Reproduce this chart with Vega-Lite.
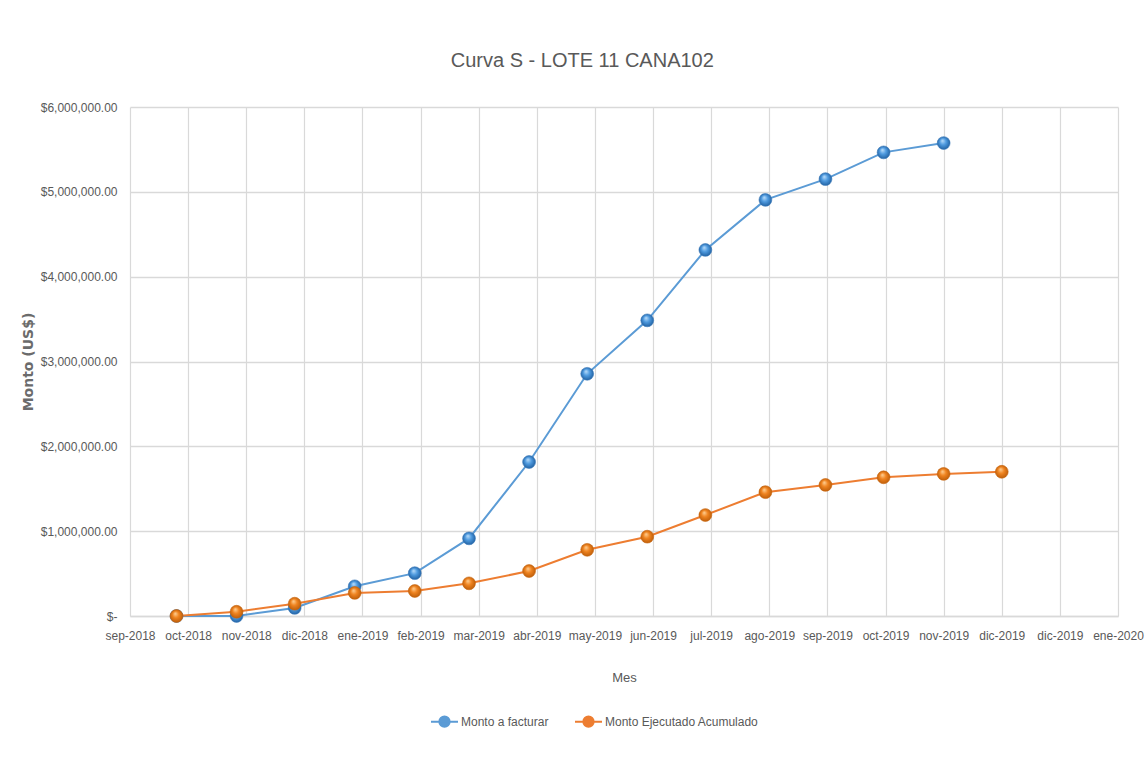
{
  "$schema": "https://vega.github.io/schema/vega-lite/v6.json",
  "width": 988,
  "height": 509,
  "autosize": {"type": "none"},
  "padding": {"left": 130, "top": 107, "right": 30, "bottom": 162},
  "background": "white",
  "title": {
    "text": "Curva S - LOTE 11 CANA102",
    "font": "Liberation Sans",
    "fontSize": 20,
    "fontWeight": "normal",
    "color": "#595959",
    "anchor": "middle",
    "frame": "bounds",
    "offset": 30
  },
  "config": {
    "view": {"stroke": null},
    "font": "Liberation Sans"
  },
  "data": {
    "values": [
      {"mes": "2018-10-01", "serie": "Monto a facturar", "monto": 0},
      {"mes": "2018-11-01", "serie": "Monto a facturar", "monto": 0},
      {"mes": "2018-12-01", "serie": "Monto a facturar", "monto": 95000},
      {"mes": "2019-01-01", "serie": "Monto a facturar", "monto": 350000},
      {"mes": "2019-02-01", "serie": "Monto a facturar", "monto": 505000},
      {"mes": "2019-03-01", "serie": "Monto a facturar", "monto": 915000},
      {"mes": "2019-04-01", "serie": "Monto a facturar", "monto": 1815000},
      {"mes": "2019-05-01", "serie": "Monto a facturar", "monto": 2855000},
      {"mes": "2019-06-01", "serie": "Monto a facturar", "monto": 3485000},
      {"mes": "2019-07-01", "serie": "Monto a facturar", "monto": 4315000},
      {"mes": "2019-08-01", "serie": "Monto a facturar", "monto": 4905000},
      {"mes": "2019-09-01", "serie": "Monto a facturar", "monto": 5150000},
      {"mes": "2019-10-01", "serie": "Monto a facturar", "monto": 5465000},
      {"mes": "2019-11-01", "serie": "Monto a facturar", "monto": 5575000},
      {"mes": "2018-10-01", "serie": "Monto Ejecutado Acumulado", "monto": 0},
      {"mes": "2018-11-01", "serie": "Monto Ejecutado Acumulado", "monto": 50000},
      {"mes": "2018-12-01", "serie": "Monto Ejecutado Acumulado", "monto": 145000},
      {"mes": "2019-01-01", "serie": "Monto Ejecutado Acumulado", "monto": 272000},
      {"mes": "2019-02-01", "serie": "Monto Ejecutado Acumulado", "monto": 295000},
      {"mes": "2019-03-01", "serie": "Monto Ejecutado Acumulado", "monto": 385000},
      {"mes": "2019-04-01", "serie": "Monto Ejecutado Acumulado", "monto": 530000},
      {"mes": "2019-05-01", "serie": "Monto Ejecutado Acumulado", "monto": 780000},
      {"mes": "2019-06-01", "serie": "Monto Ejecutado Acumulado", "monto": 935000},
      {"mes": "2019-07-01", "serie": "Monto Ejecutado Acumulado", "monto": 1190000},
      {"mes": "2019-08-01", "serie": "Monto Ejecutado Acumulado", "monto": 1460000},
      {"mes": "2019-09-01", "serie": "Monto Ejecutado Acumulado", "monto": 1545000},
      {"mes": "2019-10-01", "serie": "Monto Ejecutado Acumulado", "monto": 1635000},
      {"mes": "2019-11-01", "serie": "Monto Ejecutado Acumulado", "monto": 1675000},
      {"mes": "2019-12-01", "serie": "Monto Ejecutado Acumulado", "monto": 1700000}
    ]
  },
  "encoding": {
    "x": {
      "field": "mes",
      "type": "temporal",
      "title": "Mes",
      "scale": {
        "type": "utc",
        "domain": [
          {"year": 2018, "month": 9, "date": 7, "utc": true},
          {"year": 2020, "month": 1, "date": 30, "utc": true}
        ]
      },
      "axis": {
        "values": [
          {"year": 2018, "month": 9, "date": 7, "utc": true},
          {"year": 2018, "month": 10, "date": 7, "utc": true},
          {"year": 2018, "month": 11, "date": 6, "utc": true},
          {"year": 2018, "month": 12, "date": 6, "utc": true},
          {"year": 2019, "month": 1, "date": 5, "utc": true},
          {"year": 2019, "month": 2, "date": 4, "utc": true},
          {"year": 2019, "month": 3, "date": 6, "utc": true},
          {"year": 2019, "month": 4, "date": 5, "utc": true},
          {"year": 2019, "month": 5, "date": 5, "utc": true},
          {"year": 2019, "month": 6, "date": 4, "utc": true},
          {"year": 2019, "month": 7, "date": 4, "utc": true},
          {"year": 2019, "month": 8, "date": 3, "utc": true},
          {"year": 2019, "month": 9, "date": 2, "utc": true},
          {"year": 2019, "month": 10, "date": 2, "utc": true},
          {"year": 2019, "month": 11, "date": 1, "utc": true},
          {"year": 2019, "month": 12, "date": 1, "utc": true},
          {"year": 2019, "month": 12, "date": 31, "utc": true},
          {"year": 2020, "month": 1, "date": 30, "utc": true}
        ],
        "labelExpr": "['ene','feb','mar','abr','may','jun','jul','ago','sep','oct','nov','dic'][utcmonth(datum.value)] + '-' + utcyear(datum.value)",
        "labelAngle": 0,
        "labelFontSize": 12,
        "labelColor": "#595959",
        "labelPadding": 14,
        "labelOverlap": false,
        "labelFlush": false,
        "ticks": false,
        "domainColor": "#d9d9d9",
        "domainWidth": 1.5,
        "grid": true,
        "gridColor": "#d9d9d9",
        "gridWidth": 1.2,
        "title": "Mes",
        "titleFontSize": 13,
        "titleFontWeight": "normal",
        "titleColor": "#595959",
        "titlePadding": 30
      }
    },
    "y": {
      "field": "monto",
      "type": "quantitative",
      "scale": {"domain": [0, 6000000]},
      "axis": {
        "values": [0, 1000000, 2000000, 3000000, 4000000, 5000000, 6000000],
        "labelExpr": "datum.value == 0 ? '$-' : format(datum.value, '$,.2f')",
        "labelFontSize": 12,
        "labelColor": "#595959",
        "labelPadding": 13,
        "ticks": false,
        "domain": false,
        "grid": true,
        "gridColor": "#d9d9d9",
        "gridWidth": 1.5,
        "title": "Monto (US$)",
        "titleFont": "DejaVu Sans",
        "titleFontSize": 14,
        "titleFontWeight": "bold",
        "titleColor": "#6b6b6b",
        "titlePadding": 5
      }
    }
  },
  "layer": [
    {
      "mark": {"type": "line", "strokeWidth": 2},
      "encoding": {
        "color": {
          "field": "serie",
          "type": "nominal",
          "scale": {
            "domain": ["Monto a facturar", "Monto Ejecutado Acumulado"],
            "range": ["#5b9bd5", "#ed7d31"]
          },
          "legend": {
            "title": null,
            "orient": "none",
            "direction": "horizontal",
            "legendX": 300,
            "legendY": 600,
            "labelFontSize": 12,
            "labelColor": "#595959",
            "labelLimit": 0,
            "labelOffset": 2,
            "columnPadding": 22,
            "symbolType": "M-1,0L1,0M0.38,0A0.38,0.38,0,1,1,-0.38,0A0.38,0.38,0,1,1,0.38,0Z",
            "symbolSize": 729,
            "symbolStrokeWidth": 2,
            "encode": {
              "symbols": {
                "update": {
                  "fill": {"scale": "color", "field": "value"},
                  "stroke": {"scale": "color", "field": "value"},
                  "fillOpacity": {"value": 1}
                }
              }
            }
          }
        }
      }
    },
    {
      "transform": [{"filter": "datum.serie == 'Monto a facturar'"}],
      "mark": {
        "type": "point",
        "shape": "circle",
        "filled": true,
        "size": 165,
        "opacity": 1,
        "fill": {
          "gradient": "radial",
          "x1": 0.4, "y1": 0.3, "r1": 0,
          "x2": 0.5, "y2": 0.5, "r2": 0.55,
          "stops": [
            {"offset": 0, "color": "#bfe0fb"},
            {"offset": 0.45, "color": "#4f9be0"},
            {"offset": 1, "color": "#1d5c9c"}
          ]
        },
        "stroke": "#3a79b8",
        "strokeWidth": 0.6
      }
    },
    {
      "transform": [{"filter": "datum.serie == 'Monto Ejecutado Acumulado'"}],
      "mark": {
        "type": "point",
        "shape": "circle",
        "filled": true,
        "size": 165,
        "opacity": 1,
        "fill": {
          "gradient": "radial",
          "x1": 0.4, "y1": 0.3, "r1": 0,
          "x2": 0.5, "y2": 0.5, "r2": 0.55,
          "stops": [
            {"offset": 0, "color": "#ffd39a"},
            {"offset": 0.45, "color": "#f08420"},
            {"offset": 1, "color": "#b85a08"}
          ]
        },
        "stroke": "#c8650d",
        "strokeWidth": 0.6
      }
    }
  ]
}
